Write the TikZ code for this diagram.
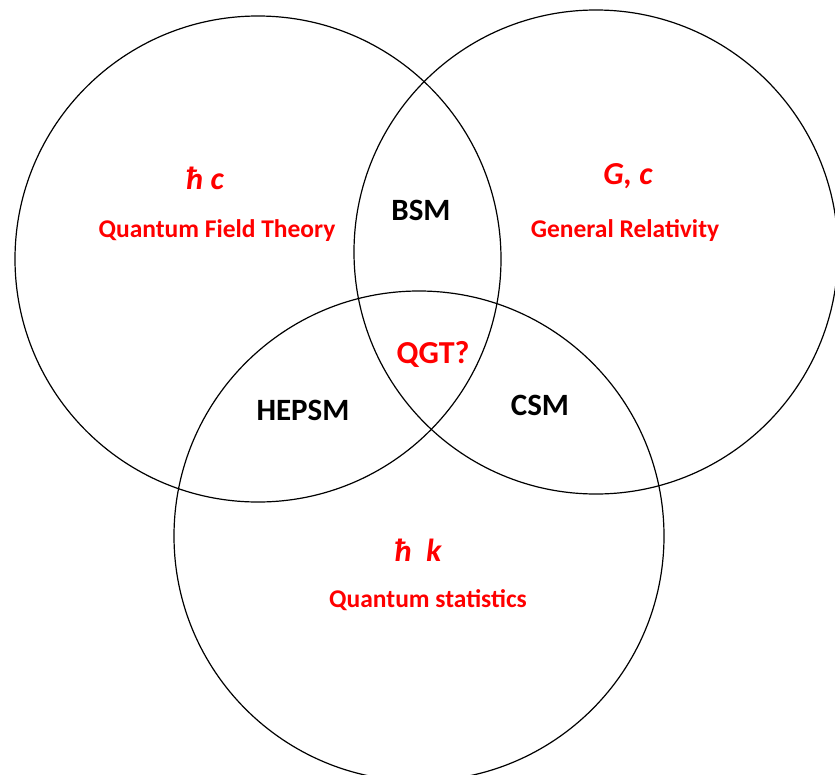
\documentclass[tikz,border=0pt]{standalone}
\usepackage{fontspec}
\setmainfont{Carlito}
\definecolor{lbred}{RGB}{255,0,0}
\begin{document}
\begin{tikzpicture}[x=1pt,y=-1pt,
  ring/.style={draw=black,line width=1.2pt},
  rlabel/.style={text=lbred,font=\bfseries\fontsize{25.5}{28}\selectfont,inner sep=0pt},
  rsym/.style={text=lbred,font=\bfseries\itshape\fontsize{32}{36}\selectfont,inner sep=0pt},
  blabel/.style={text=black,font=\bfseries\fontsize{31}{35}\selectfont,inner sep=0pt},
  qlabel/.style={text=lbred,font=\bfseries\fontsize{32}{36}\selectfont,inner sep=0pt}]
\useasboundingbox (0,0) rectangle (835,774);
\draw[ring] (258,259) circle[radius=243] coordinate (c1);
\draw[ring] (596,252) circle[radius=242] coordinate (c2);
\draw[ring] (419,536) circle[radius=245] coordinate (c3);
\node[rsym] (hc) at (205,178) {ħ c};
\node[rlabel] (qft) at (217,231) {Quantum Field Theory};
\node[rsym] (gc) at (628,176) {G, c};
\node[rlabel] (gr) at (625,231) {General Relativity};
\node[blabel] (bsm) at (421,210) {BSM};
\node[qlabel] (qgt) at (433,354) {QGT?};
\node[blabel] (hepsm) at (303,410) {HEPSM};
\node[blabel] (csm) at (540,405) {CSM};
\node[rsym] (hk) at (418,550) {ħ\ \ k};
\node[rlabel] (qs) at (428,600) {Quantum statistics};
\end{tikzpicture}
\end{document}
